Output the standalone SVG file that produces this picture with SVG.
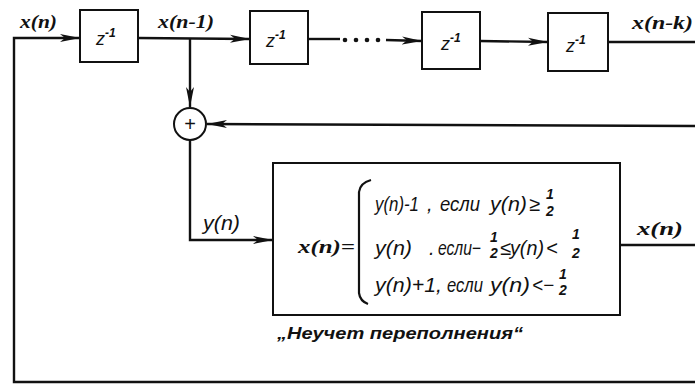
<svg xmlns="http://www.w3.org/2000/svg" width="695" height="386" viewBox="0 0 695 386">
<style>
.box{fill:#fff;stroke:#111;stroke-width:2}
.ln{fill:none;stroke:#111;stroke-width:2.4}
.lbl{font-family:"Liberation Serif",serif;font-style:italic;font-weight:bold;font-size:19px;fill:#111}
.z{font-family:"Liberation Sans",sans-serif;font-style:italic;font-size:18px;fill:#111}
.sup{font-size:12px;font-weight:bold}
.f{font-family:"Liberation Sans",sans-serif;font-style:italic;font-size:20px;fill:#111}
.fr{font-family:"Liberation Sans",sans-serif;font-style:italic;font-weight:bold;font-size:14px;fill:#111;text-anchor:middle}
.cap{font-family:"Liberation Sans",sans-serif;font-style:italic;font-weight:bold;font-size:17px;fill:#111}
</style>
<defs>
<marker id="ar" viewBox="0 0 20 10" refX="20" refY="5" markerWidth="20" markerHeight="10" markerUnits="userSpaceOnUse" orient="auto">
<path d="M0,1 L20,5 L0,9 L5,5 Z" fill="#111"/>
</marker>
</defs>
<g id="connectors">
<path class="ln" d="M695,382 L14,382 L14,38 L80,38" marker-end="url(#ar)"/>
<path class="ln" d="M138,38 L250,39" marker-end="url(#ar)"/>
<path class="ln" d="M190,38 L190,107" marker-end="url(#ar)"/>
<path class="ln" d="M308,39 L340,39"/>
<circle cx="345" cy="40" r="2.3" fill="#111"/>
<circle cx="356" cy="40" r="2.3" fill="#111"/>
<circle cx="367" cy="40" r="2.3" fill="#111"/>
<circle cx="378" cy="40" r="2.3" fill="#111"/>
<path class="ln" d="M386,40 L422,41" marker-end="url(#ar)"/>
<path class="ln" d="M480,41 L548,42" marker-end="url(#ar)"/>
<path class="ln" d="M608,42 L695,42"/>
<path class="ln" d="M695,126 L207,124" marker-end="url(#ar)"/>
<path class="ln" d="M190,140 L190,240 L273,240" marker-end="url(#ar)"/>
<path class="ln" d="M620,245 L695,245"/>
</g>
<g id="labels">
<text class="lbl" x="20" y="28" textLength="37" lengthAdjust="spacingAndGlyphs">x(n)</text>
<text class="lbl" x="158" y="28" textLength="56" lengthAdjust="spacingAndGlyphs">x(n-1)</text>
<text class="lbl" x="632" y="29" textLength="61" lengthAdjust="spacingAndGlyphs">x(n-k)</text>
<text class="f" x="203" y="230" textLength="37" lengthAdjust="spacingAndGlyphs">y(n)</text>
<text class="lbl" x="637" y="235" textLength="46" lengthAdjust="spacingAndGlyphs">x(n)</text>
</g>
<g id="delay1"><rect class="box" x="80" y="10" width="58" height="52"/><text class="z" x="96" y="45">z<tspan class="sup" dy="-8">-1</tspan></text></g>
<g id="delay2"><rect class="box" x="250" y="11" width="58" height="53"/><text class="z" x="266" y="47">z<tspan class="sup" dy="-8">-1</tspan></text></g>
<g id="delay3"><rect class="box" x="422" y="12" width="58" height="57"/><text class="z" x="441" y="50">z<tspan class="sup" dy="-8">-1</tspan></text></g>
<g id="delay4"><rect class="box" x="548" y="13" width="60" height="58"/><text class="z" x="566" y="52">z<tspan class="sup" dy="-8">-1</tspan></text></g>
<g id="adder"><circle cx="190" cy="124" r="16" fill="#fff" stroke="#111" stroke-width="2"/><text x="190" y="131" font-family="Liberation Sans, sans-serif" font-size="20" text-anchor="middle" fill="#111">+</text></g>
<g id="quantizer">
<rect class="box" x="273" y="163" width="347" height="152"/>
<text class="lbl" x="298" y="253" textLength="57" lengthAdjust="spacingAndGlyphs">x(n)=</text>
<path d="M371,180 Q360,183 359,192 L359,293 Q360,301 368,304" fill="none" stroke="#111" stroke-width="2.2"/>
<text class="f" x="375" y="211" textLength="44" lengthAdjust="spacingAndGlyphs">y(n)-1</text>
<text class="f" x="427" y="211">,</text>
<text class="f" x="440" y="211" textLength="40" lengthAdjust="spacingAndGlyphs">если</text>
<text class="f" x="490" y="211" textLength="37" lengthAdjust="spacingAndGlyphs">y(n)</text>
<text class="f" x="529" y="211" font-size="17">≥</text>
<text class="fr" x="550" y="199" font-size="12">1</text><text class="fr" x="550" y="216">2</text>
<text class="f" x="375" y="255" textLength="37" lengthAdjust="spacingAndGlyphs">y(n)</text>
<text class="f" x="429" y="255">.</text>
<text class="f" x="438" y="255" font-size="17" textLength="43" lengthAdjust="spacingAndGlyphs">если−</text>
<text class="fr" x="494" y="242" font-size="12">1</text><text class="fr" x="494" y="258">2</text>
<text class="f" x="500" y="255" font-size="17">≤</text>
<text class="f" x="510" y="255" textLength="34" lengthAdjust="spacingAndGlyphs">y(n)</text>
<text class="f" x="546" y="255" font-size="17">&lt;</text>
<text class="fr" x="576" y="239" font-size="12">1</text><text class="fr" x="576" y="258">2</text>
<text class="f" x="375" y="292" textLength="67" lengthAdjust="spacingAndGlyphs">y(n)+1,</text>
<text class="f" x="447" y="292" textLength="36" lengthAdjust="spacingAndGlyphs">если</text>
<text class="f" x="490" y="292" textLength="40" lengthAdjust="spacingAndGlyphs">y(n)</text>
<text class="f" x="532" y="292" textLength="22" lengthAdjust="spacingAndGlyphs" font-size="17">&lt;−</text>
<text class="fr" x="563" y="279" font-size="12">1</text><text class="fr" x="563" y="295">2</text>
</g>
<g id="caption"><text class="cap" x="277" y="339" textLength="246" lengthAdjust="spacingAndGlyphs">„Неучет переполнения“</text></g>
</svg>
